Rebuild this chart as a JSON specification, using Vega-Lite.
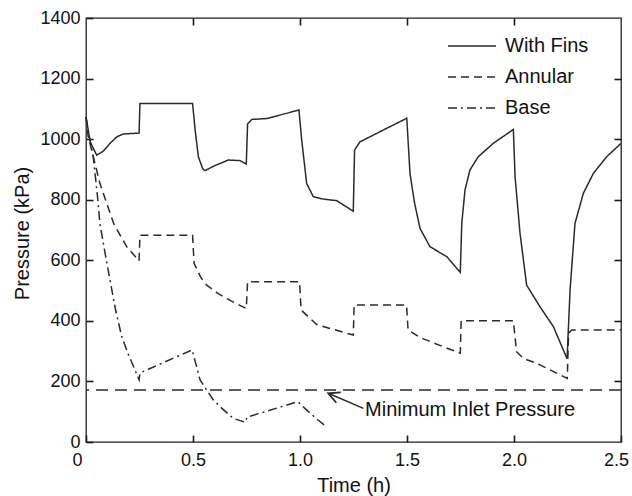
{
  "$schema": "https://vega.github.io/schema/vega-lite/v6.json",
  "width": 535,
  "height": 424,
  "autosize": {"type": "none"},
  "padding": {"left": 86, "top": 18, "right": 11, "bottom": 54},
  "background": "white",
  "config": {
    "font": "Liberation Sans",
    "view": {"stroke": "#222", "strokeWidth": 1.3},
    "axis": {
      "grid": false,
      "domain": false,
      "labelFont": "Liberation Sans",
      "labelFontSize": 18,
      "labelColor": "#111",
      "titleFont": "Liberation Sans",
      "titleFontSize": 20,
      "titleFontWeight": "normal",
      "titleColor": "#111"
    }
  },
  "datasets": {
    "curves": [
      {"series": "With Fins", "t": 0, "p": 1073},
      {"series": "With Fins", "t": 0.02, "p": 990},
      {"series": "With Fins", "t": 0.05, "p": 947},
      {"series": "With Fins", "t": 0.08, "p": 960},
      {"series": "With Fins", "t": 0.112, "p": 986},
      {"series": "With Fins", "t": 0.145, "p": 1008},
      {"series": "With Fins", "t": 0.174, "p": 1017},
      {"series": "With Fins", "t": 0.248, "p": 1020},
      {"series": "With Fins", "t": 0.252, "p": 1118},
      {"series": "With Fins", "t": 0.498, "p": 1118},
      {"series": "With Fins", "t": 0.51, "p": 1030},
      {"series": "With Fins", "t": 0.525, "p": 942},
      {"series": "With Fins", "t": 0.545, "p": 903},
      {"series": "With Fins", "t": 0.556, "p": 896},
      {"series": "With Fins", "t": 0.6, "p": 912},
      {"series": "With Fins", "t": 0.665, "p": 931},
      {"series": "With Fins", "t": 0.72, "p": 929},
      {"series": "With Fins", "t": 0.749, "p": 918},
      {"series": "With Fins", "t": 0.755, "p": 1050},
      {"series": "With Fins", "t": 0.774, "p": 1065},
      {"series": "With Fins", "t": 0.844, "p": 1068},
      {"series": "With Fins", "t": 0.995, "p": 1096},
      {"series": "With Fins", "t": 1.008, "p": 997},
      {"series": "With Fins", "t": 1.031, "p": 854},
      {"series": "With Fins", "t": 1.062, "p": 810},
      {"series": "With Fins", "t": 1.109, "p": 802},
      {"series": "With Fins", "t": 1.171, "p": 797},
      {"series": "With Fins", "t": 1.249, "p": 762},
      {"series": "With Fins", "t": 1.255, "p": 964},
      {"series": "With Fins", "t": 1.28, "p": 991},
      {"series": "With Fins", "t": 1.389, "p": 1030},
      {"series": "With Fins", "t": 1.499, "p": 1069},
      {"series": "With Fins", "t": 1.514, "p": 887},
      {"series": "With Fins", "t": 1.535, "p": 790},
      {"series": "With Fins", "t": 1.561, "p": 705},
      {"series": "With Fins", "t": 1.607, "p": 645},
      {"series": "With Fins", "t": 1.686, "p": 612},
      {"series": "With Fins", "t": 1.749, "p": 560},
      {"series": "With Fins", "t": 1.756, "p": 722},
      {"series": "With Fins", "t": 1.771, "p": 832},
      {"series": "With Fins", "t": 1.794, "p": 898},
      {"series": "With Fins", "t": 1.833, "p": 942},
      {"series": "With Fins", "t": 1.903, "p": 986},
      {"series": "With Fins", "t": 1.997, "p": 1032},
      {"series": "With Fins", "t": 2.005, "p": 876},
      {"series": "With Fins", "t": 2.028, "p": 690},
      {"series": "With Fins", "t": 2.059, "p": 518},
      {"series": "With Fins", "t": 2.121, "p": 447},
      {"series": "With Fins", "t": 2.184, "p": 381},
      {"series": "With Fins", "t": 2.248, "p": 275},
      {"series": "With Fins", "t": 2.262, "p": 502},
      {"series": "With Fins", "t": 2.285, "p": 722},
      {"series": "With Fins", "t": 2.324, "p": 821},
      {"series": "With Fins", "t": 2.371, "p": 887},
      {"series": "With Fins", "t": 2.433, "p": 942},
      {"series": "With Fins", "t": 2.5, "p": 986},
      {"series": "Annular", "t": 0, "p": 1073},
      {"series": "Annular", "t": 0.01, "p": 1010},
      {"series": "Annular", "t": 0.065, "p": 854},
      {"series": "Annular", "t": 0.13, "p": 720},
      {"series": "Annular", "t": 0.19, "p": 645},
      {"series": "Annular", "t": 0.248, "p": 598},
      {"series": "Annular", "t": 0.252, "p": 683},
      {"series": "Annular", "t": 0.498, "p": 683},
      {"series": "Annular", "t": 0.505, "p": 590},
      {"series": "Annular", "t": 0.535, "p": 545},
      {"series": "Annular", "t": 0.564, "p": 518},
      {"series": "Annular", "t": 0.618, "p": 490},
      {"series": "Annular", "t": 0.68, "p": 465},
      {"series": "Annular", "t": 0.749, "p": 441},
      {"series": "Annular", "t": 0.755, "p": 529},
      {"series": "Annular", "t": 0.998, "p": 529},
      {"series": "Annular", "t": 1.005, "p": 436},
      {"series": "Annular", "t": 1.047, "p": 408},
      {"series": "Annular", "t": 1.078, "p": 388},
      {"series": "Annular", "t": 1.14, "p": 375},
      {"series": "Annular", "t": 1.249, "p": 353},
      {"series": "Annular", "t": 1.253, "p": 452},
      {"series": "Annular", "t": 1.498, "p": 452},
      {"series": "Annular", "t": 1.505, "p": 370},
      {"series": "Annular", "t": 1.561, "p": 345},
      {"series": "Annular", "t": 1.65, "p": 320},
      {"series": "Annular", "t": 1.749, "p": 293},
      {"series": "Annular", "t": 1.753, "p": 400},
      {"series": "Annular", "t": 1.997, "p": 400},
      {"series": "Annular", "t": 2.012, "p": 298},
      {"series": "Annular", "t": 2.044, "p": 276},
      {"series": "Annular", "t": 2.106, "p": 260},
      {"series": "Annular", "t": 2.249, "p": 210},
      {"series": "Annular", "t": 2.255, "p": 359},
      {"series": "Annular", "t": 2.27, "p": 370},
      {"series": "Annular", "t": 2.5, "p": 370},
      {"series": "Base", "t": 0, "p": 1073},
      {"series": "Base", "t": 0.015, "p": 1010},
      {"series": "Base", "t": 0.034, "p": 942},
      {"series": "Base", "t": 0.057, "p": 788},
      {"series": "Base", "t": 0.065, "p": 720},
      {"series": "Base", "t": 0.09, "p": 620},
      {"series": "Base", "t": 0.112, "p": 535},
      {"series": "Base", "t": 0.14, "p": 430},
      {"series": "Base", "t": 0.167, "p": 348},
      {"series": "Base", "t": 0.2, "p": 285},
      {"series": "Base", "t": 0.229, "p": 238},
      {"series": "Base", "t": 0.248, "p": 205},
      {"series": "Base", "t": 0.252, "p": 228},
      {"series": "Base", "t": 0.496, "p": 304},
      {"series": "Base", "t": 0.533, "p": 205},
      {"series": "Base", "t": 0.564, "p": 172},
      {"series": "Base", "t": 0.595, "p": 139},
      {"series": "Base", "t": 0.626, "p": 117},
      {"series": "Base", "t": 0.688, "p": 78},
      {"series": "Base", "t": 0.745, "p": 65},
      {"series": "Base", "t": 0.752, "p": 82},
      {"series": "Base", "t": 0.99, "p": 133},
      {"series": "Base", "t": 1.03, "p": 106},
      {"series": "Base", "t": 1.08, "p": 75},
      {"series": "Base", "t": 1.125, "p": 50}
    ],
    "inlet": [{"p": 172}],
    "arrow": [{"t1": 1.296, "p1": 111, "t2": 1.132, "p2": 161}],
    "note": [{"t": 1.304, "p": 106, "label": "Minimum Inlet Pressure"}]
  },
  "layer": [
    {
      "data": {"name": "curves"},
      "mark": {"type": "line", "strokeWidth": 1.5, "color": "#2a2a2a"},
      "encoding": {
        "x": {
          "field": "t", "type": "quantitative",
          "scale": {"domain": [0, 2.5], "nice": false, "zero": false},
          "axis": {
            "orient": "bottom",
            "title": "Time (h)",
            "values": [0, 0.5, 1, 1.5, 2, 2.5],
            "labelExpr": "datum.value == 0 ? '0' : format(datum.value, '.1f')",
            "labelFlush": false,
            "ticks": true,
            "tickSize": -7,
            "tickColor": "#1a1a1a",
            "tickWidth": 1.6,
            "labelPadding": 16,
            "labelOffset": {"condition": [{"test": "datum.value == 0", "value": -9}, {"test": "datum.value == 2.5", "value": -5}], "value": 0},
            "titleBaseline": "alphabetic",
            "titleY": 49
          }
        },
        "y": {
          "field": "p", "type": "quantitative",
          "scale": {"domain": [0, 1400], "nice": false},
          "axis": {
            "orient": "left",
            "title": "Pressure (kPa)",
            "format": "d",
            "values": [0, 200, 400, 600, 800, 1000, 1200, 1400],
            "ticks": true,
            "tickSize": -7,
            "tickColor": "#1a1a1a",
            "tickWidth": 1.6,
            "labelPadding": 13,
            "titleAngle": 270,
            "titleBaseline": "bottom",
            "titleAlign": "center",
            "titleX": -54,
            "titleY": 215
          }
        },
        "strokeDash": {
          "field": "series", "type": "nominal",
          "scale": {
            "domain": ["With Fins", "Annular", "Base"],
            "range": [[1, 0], [8, 5], [9, 4, 2, 4]]
          },
          "legend": {
            "title": null,
            "orient": "none",
            "legendX": 373,
            "legendY": 15,
            "padding": 0,
            "symbolType": "M-2,0L2,0",
            "symbolSize": 576,
            "symbolStrokeWidth": 1.5,
            "symbolStrokeColor": "#2a2a2a",
            "labelFont": "Liberation Sans",
            "labelFontSize": 20,
            "labelColor": "#111",
            "labelOffset": 20,
            "rowPadding": 8
          }
        }
      }
    },
    {
      "data": {"name": "inlet"},
      "mark": {"type": "rule", "strokeDash": [12, 7], "strokeWidth": 1.5, "color": "#2a2a2a"},
      "encoding": {
        "y": {"field": "p", "type": "quantitative", "axis": null}
      }
    },
    {
      "data": {"name": "arrow"},
      "mark": {"type": "rule", "strokeWidth": 1.5, "color": "#2a2a2a"},
      "encoding": {
        "x": {"field": "t1", "type": "quantitative", "axis": null},
        "y": {"field": "p1", "type": "quantitative", "axis": null},
        "x2": {"field": "t2"},
        "y2": {"field": "p2"}
      }
    },
    {
      "data": {"name": "arrow"},
      "mark": {"type": "point", "shape": "M-1,-0.5L0,0L-1,0.5", "angle": 203, "size": 500, "filled": false, "strokeWidth": 1.8, "color": "#2a2a2a", "opacity": 1},
      "encoding": {
        "x": {"field": "t2", "type": "quantitative", "axis": null},
        "y": {"field": "p2", "type": "quantitative", "axis": null}
      }
    },
    {
      "data": {"name": "note"},
      "mark": {"type": "text", "align": "left", "baseline": "middle", "fontSize": 20, "font": "Liberation Sans", "color": "#111"},
      "encoding": {
        "x": {
          "field": "t", "type": "quantitative",
          "axis": {"orient": "top", "labels": false, "title": null, "ticks": true, "tickSize": -7, "tickColor": "#1a1a1a", "tickWidth": 1.6, "values": [0.5, 1, 1.5, 2]}
        },
        "y": {
          "field": "p", "type": "quantitative",
          "axis": {"orient": "right", "labels": false, "title": null, "ticks": true, "tickSize": -7, "tickColor": "#1a1a1a", "tickWidth": 1.6, "values": [200, 400, 600, 800, 1000, 1200]}
        },
        "text": {"field": "label"}
      }
    }
  ],
  "resolve": {"axis": {"x": "independent", "y": "independent"}}
}
